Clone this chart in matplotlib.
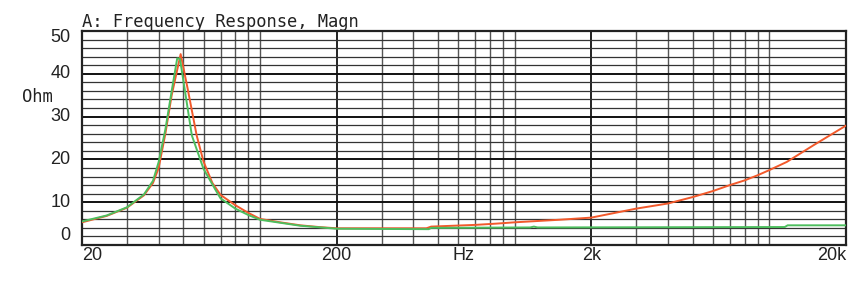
import matplotlib
matplotlib.use("Agg")
import matplotlib.pyplot as plt
import matplotlib.transforms as mtransforms

# Impedance curves (Hz, Ohm)
red_freq = [20, 25, 30, 35, 38, 40, 42.5, 45, 48.8, 52, 56.4, 60, 65, 70, 80, 90,
            100, 120, 144, 170, 200, 300, 450, 470, 700, 850, 1000, 1500, 2000,
            3000, 4000, 5000, 6000, 7000, 8000, 9000, 10000, 11700, 14900, 20000]
red_ohm = [5.3, 6.8, 8.7, 11.6, 14.5, 18.0, 26.0, 35.0, 44.6, 36.5, 25.6, 19.5, 14.5,
           11.7, 9.3, 7.5, 6.1, 5.3, 4.6, 4.2, 3.9, 3.9, 3.9, 4.3, 4.7, 5.0, 5.3, 5.9,
           6.4, 8.5, 9.7, 11.2, 12.6, 14.0, 15.1, 16.3, 17.5, 19.4, 23.3, 27.9]

green_freq = [20, 25, 30, 35, 38, 40, 42.5, 45, 47.3, 48.5, 54, 60, 67.6, 70, 80, 90,
              100, 144, 200, 460, 470, 1150, 1190, 1230, 11500, 11800, 20000]
green_ohm = [5.5, 6.9, 8.8, 11.8, 15.0, 19.4, 27.0, 36.0, 43.6, 43.5, 25.6, 17.8,
             12.4, 10.9, 8.5, 7.0, 5.9, 4.5, 3.8, 3.7, 4.0, 4.1, 4.3, 4.1, 4.2, 4.6, 4.6]

x_labels = ["20", "200", "2k", "20k"]
x_label_pos = [20, 200, 2000, 20000]
y_labels = ["0", "10", "20", "30", "40", "50"]
y_label_pos = [2.3, 10, 20, 30, 40, 48.4]

fig = plt.figure(figsize=(8.59, 3.03), dpi=100)
ax = fig.add_axes([82 / 859, 58 / 303, 764 / 859, 214 / 303])

ax.set_xscale("log")
ax.set_xlim(20, 20000)
ax.set_ylim(0, 50)

# grid: log x lines, every 2 Ohm horizontally
for dec in [10, 100, 1000]:
    for m in range(2, 11):
        f = m * dec
        if 20 <= f <= 20000:
            major = m in (2,) or f == 20000
            ax.axvline(f, color="#222222" if major else "#555555",
                       lw=1.4 if major else 1.0, zorder=1)
for v in range(0, 51, 2):
    major = v % 10 == 0
    ax.axhline(v, color="#111111" if major else "#333333",
               lw=1.4 if major else 0.9, zorder=1)

ax.plot(red_freq, red_ohm, color="#F2592B", lw=1.4, zorder=3)
ax.plot(green_freq, green_ohm, color="#4DBE5E", lw=1.4, zorder=4)

for s in ax.spines.values():
    s.set_linewidth(1.6)
    s.set_color("#222222")
ax.set_xticks([])
ax.set_yticks([])
ax.minorticks_off()

tick_font = dict(family="Liberation Sans", fontsize=13, color="#222222")
mono_font = dict(family="DejaVu Sans Mono", fontsize=12.3, color="#222222")

xt = mtransforms.blended_transform_factory(ax.transData, ax.transAxes)
aligns = ["left", "center", "center", "right"]
for pos, lab, ha in zip(x_label_pos, x_labels, aligns):
    ax.text(pos, -0.05, lab, transform=xt, ha=ha, va="center", **tick_font)
ax.text(0.5, -0.05, "Hz", transform=ax.transAxes, ha="center", va="center", **tick_font)

yt = mtransforms.blended_transform_factory(ax.transAxes, ax.transData)
for pos, lab in zip(y_label_pos, y_labels):
    ax.text(-0.015, pos, lab, transform=yt, ha="right", va="center", **tick_font)

fig.text(22 / 859, 1 - 97 / 303, "Ohm", ha="left", va="center", **mono_font)
fig.text(82 / 859, 1 - 27 / 303, "A: Frequency Response, Magn",
         ha="left", va="baseline", **mono_font)

fig.savefig("out.png", dpi=100)
